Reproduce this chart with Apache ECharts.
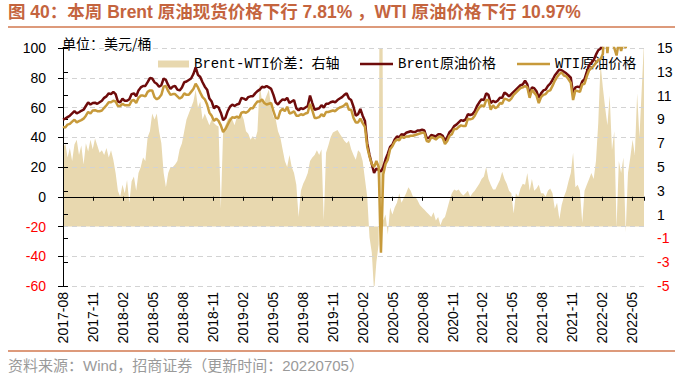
<!DOCTYPE html>
<html><head><meta charset="utf-8">
<script src="https://cdn.jsdelivr.net/npm/echarts@6/dist/echarts.min.js"></script>
<style>html,body{margin:0;padding:0;background:#fff}#c{width:683px;height:379px}</style>
</head><body><div id="c"></div>
<script>
const titleText = '图 40：本周 Brent 原油现货价格下行 7.81% ，WTI 原油价格下行 10.97%';
const unitText = '单位：美元/桶';
const sourceText = '资料来源：Wind，招商证券（更新时间：20220705）';
const seriesNames = ['Brent-WTI价差：右轴', 'Brent原油价格', 'WTI原油价格'];
const tickLabels = ['2017-08','2017-11','2018-02','2018-05','2018-08','2018-11','2019-02','2019-05','2019-08','2019-11','2020-02','2020-05','2020-08','2020-11','2021-02','2021-05','2021-08','2021-11','2022-02','2022-05'];
const rightTicks = [-5,-3,-1,1,3,5,7,9,11,13,15];
const firstWeek = '2017-08-21';

// weekly Brent spot (USD/bbl)
const brent = [
51.8,52.5,53.5,54.5,56.0,57.5,56.0,56.8,57.8,58.5,61.0,63.5,62.0,63.0,63.2,62.5,63.5,64.5,66.5,
67.5,69.5,69.0,70.5,69.0, 64.0,63.5,66.0,64.5, 64.5,65.5,69.0,69.5, 67.5,71.5,73.5,74.5,74.5,
77.0,79.8,79.5,77.0, 76.0,74.0,75.0,79.5, 78.5,75.0,72.5,74.0,74.5, 72.0,71.5,73.5,77.0,
77.5,78.5,79.5,82.5, 87.0,82.0,80.5,77.0,74.0, 72.0,66.0,64.0,59.5, 61.0,60.0,56.5,51.5,53.0,
57.5,60.5,62.0,61.0, 62.0,62.5,66.5,66.0, 65.0,67.0,67.5,67.5, 69.5,71.0,72.0,74.0,
73.5,74.5,73.5,72.5,68.5, 63.5,62.0,64.0,65.5, 65.0,66.5,63.0,64.0,65.0, 59.5,58.0,59.5,59.0,
60.0,61.0,68.0,63.0, 58.5,59.0,59.5,61.5,60.0, 62.5,62.5,63.5,64.0, 63.5,65.0,66.0,67.0,68.5,
69.5,66.0,65.0,60.5, 54.5,55.5,59.0,54.5, 51.0,36.0,28.0,22.0, 16.0,19.0,18.0,17.0,20.0,
25.0,29.0,33.5,35.0, 38.5,40.5,40.0,42.0,41.5, 43.0,43.5,44.0,43.5, 43.5,44.5,44.5,45.0,44.5,
39.5,39.5,41.5,41.0, 40.5,42.0,42.0,41.0,37.5, 40.0,43.5,45.0,47.5, 48.5,50.0,51.5,51.0,
52.0,55.5,55.0,55.5, 57.5,61.0,63.5,65.5, 65.0,69.5,68.5,63.0,64.5, 63.5,64.5,66.5,66.5,
70.0,69.0,67.5,69.0, 70.5,72.0,73.5,75.0,75.5, 78.0,75.5,68.5,73.5, 73.0,71.0,66.5,69.5,
71.5,72.0,74.5,76.0,78.5, 81.5,83.5,85.5,85.0, 84.0,83.0,81.5,80.0,69.0, 73.5,74.0,73.5,77.5,
79.0,84.0,88.5,90.0,92.0, 95.5,98.5,99.5,104.0, 130.0,105.0,120.0,113.0, 108.0,103.0,111.0,106.0,
108.0,106.0,113.0,116.0, 124.0,123.0,125.0,113.0,117.0,113.0
];

// weekly WTI spot (USD/bbl)
const wti = [
47.0,46.5,48.5,49.0,50.5,51.8,50.0,50.8,51.5,52.5,54.5,57.0,56.0,58.0,58.2,57.5,57.5,58.0,59.8,
61.5,63.5,63.5,64.5,64.0, 61.0,61.0,62.5,61.5, 61.5,61.5,64.5,65.0, 63.0,66.5,68.0,68.0,67.5,
70.5,71.5,71.5,67.0, 65.5,66.5,68.5,74.0, 74.5,71.0,68.5,69.0,69.0, 67.5,66.0,67.0,69.5,
68.5,68.5,70.5,72.5, 76.0,73.5,70.0,67.0,65.5, 62.0,56.5,54.5,51.0, 52.5,51.0,48.0,43.5,45.5,
48.5,51.5,53.5,53.0, 54.0,53.0,56.5,57.0, 56.5,57.5,59.5,59.5, 62.0,64.0,64.0,65.5,
63.0,62.0,62.5,63.0,57.5, 53.0,52.5,57.5,59.0, 57.5,60.5,56.0,56.5,57.5, 54.5,54.5,55.5,55.0,
56.0,56.5,62.5,58.0, 53.0,53.0,53.5,55.5,54.0, 57.0,57.0,57.5,58.0, 57.5,59.0,60.0,60.5,61.5,
63.0,58.5,58.5,53.0, 50.0,50.0,52.5,49.5, 47.0,33.5,27.0,22.0, 20.0,24.0,20.0,-37.6,15.0,
22.0,25.0,32.0,34.0, 37.0,38.5,38.0,40.5,39.5, 40.5,40.5,41.0,41.0, 41.5,42.0,42.5,43.0,43.0,
37.5,37.0,40.0,39.5, 38.5,40.0,40.5,39.5,35.5, 37.5,41.0,42.0,45.5, 45.5,47.0,48.0,47.5,
47.5,52.5,52.0,52.5, 54.5,57.5,60.0,61.5, 60.5,65.0,65.0,58.5,61.5, 59.5,60.5,63.0,62.5,
66.0,65.5,64.5,66.0, 68.5,70.0,71.5,73.0,73.5, 74.5,73.5,66.5,72.0, 70.0,68.0,63.0,67.0,
68.5,69.0,71.0,71.5,74.5, 78.0,80.5,82.5,83.5, 81.5,81.0,79.0,76.5,65.0, 71.5,71.0,70.5,75.5,
76.0,81.0,85.0,86.5,88.0, 90.0,92.0,92.5,96.0, 120.0,96.5,112.0,105.0, 100.0,95.0,104.0,98.0,
104.0,100.0,112.0,110.0, 118.0,119.0,118.0,108.0,110.0,110.0
];

// weekly Brent-WTI spread (right axis)
const spread = [
6.5,7.0,5.8,6.6,5.5,6.9,7.3,6.0,6.8,5.2,7.0,6.3,7.3,6.5,7.4,6.8,6.2,6.4,6.0,
6.6,5.8,6.4,5.6,4.5, 3.0,2.5,3.5,2.8, 3.9,2.0,3.8,4.2, 3.0,4.5,5.0,5.8,5.5,
7.5,8.0,9.5,9.0, 9.5,8.0,7.0,4.5, 3.3,4.5,5.0,5.0,5.2, 5.5,6.5,7.0,8.0,
9.0,9.5,10.0,10.5, 11.5,10.0,10.5,9.0,9.5, 9.0,8.5,9.0,8.7, 8.5,8.4,1.5,8.0,8.5,
9.0,9.2,9.0,8.5, 9.2,9.0,9.5,9.0, 8.0,7.8,7.3,7.6, 7.3,8.0,12.0,10.5,
10.5,11.0,11.5,10.0,9.2, 9.0,8.0,7.5,6.5, 5.5,5.0,6.0,5.0,4.5, 3.5,0.8,3.0,3.6,
4.0,4.5,5.5,5.8, 6.0,6.4,6.0,6.5,0.5, 6.2,6.8,7.5,7.9, 8.0,8.1,7.8,7.5,7.2,
7.0,7.2,6.5,6.0, 5.6,6.4,6.2,5.5, 4.0,2.5,-0.9,-2.2, -5.5,-3.0,-1.5,54.6,0.5,
1.0,-0.7,1.6,1.0, 1.6,2.0,2.8,2.0,2.4, 2.8,3.3,3.0,2.5, 2.5,2.2,1.8,1.6,1.4,
1.2,1.0,0.8,1.2, 0.5,0.8,0.1,0.6,0.8, 1.5,2.2,2.8,3.1, 3.0,3.1,2.8,2.6,
2.8,3.0,2.5,2.8, 3.0,3.3,3.6,4.0, 4.2,5.0,4.0,3.5,3.1, 3.1,3.5,3.9,4.6,
4.0,3.6,3.0,2.8, 1.1,2.8,2.5,3.2,3.6, 3.5,4.5,3.0,4.0, 3.0,3.2,3.5,2.8,
2.8,2.5,3.0,3.2,2.8, 1.5,2.0,0.6,1.8, 2.5,3.0,3.8,4.5,6.2, 3.3,3.5,3.0,0.3,
3.0,3.5,4.0,4.5,4.0, 5.5,8.7,13.7,11.7, 10.0,8.5,11.0,6.4, 8.0,-0.1,5.5,4.5,
5.8,-0.5,4.5,5.8, 7.3,6.0,11.2,7.5,11.5,15.5
];

// weekly category dates (Mondays) starting from firstWeek
const weeks = [];
(function () {
  let t = Date.parse(firstWeek + 'T00:00:00Z');
  for (let i = 0; i < brent.length; i++) {
    weeks.push(new Date(t).toISOString().slice(0, 10));
    t += 7 * 86400000;
  }
})();

const labelSpan = 19.39; // label slots across plot width
const latin = '"Liberation Sans", Arial, "Noto Sans CJK SC", sans-serif';
const mono = '"Liberation Mono", "Noto Sans CJK SC", monospace';
const negRed = v => (v < 0 ? '#FF0000' : '#000000');
const isInt = v => Math.abs(v - Math.round(v)) < 1e-6;
const legendText = { fontFamily: mono, fontSize: 14, color: '#000' };

const chart = echarts.init(document.getElementById('c'), null, { renderer: 'svg' });
chart.setOption({
  animation: false,
  backgroundColor: '#ffffff',
  grid: { left: 63, right: 39, top: 48, bottom: 93 },
  legend: [
    { data: [seriesNames[0]], left: 153, top: 52, icon: 'rect', itemWidth: 31, itemHeight: 7, selectedMode: false, textStyle: legendText },
    { data: [seriesNames[1]], left: 355, top: 52, icon: 'rect', itemWidth: 33, itemHeight: 2.5, selectedMode: false, textStyle: legendText },
    { data: [seriesNames[2]], left: 512, top: 52, icon: 'rect', itemWidth: 33, itemHeight: 2.5, selectedMode: false, textStyle: legendText }
  ],
  xAxis: [
    { type: 'category', data: weeks, boundaryGap: false, show: false },
    { type: 'value', min: 0, max: labelSpan, interval: 1, position: 'bottom',
      axisLine: { show: false, onZero: false }, axisTick: { show: false }, splitLine: { show: false },
      axisLabel: { rotate: 90, margin: 6, fontSize: 14, fontFamily: latin, color: '#000',
        formatter: v => (isInt(v) && tickLabels[Math.round(v)]) ? tickLabels[Math.round(v)] : '' } },
    { type: 'value', min: 0, max: labelSpan, interval: 1, position: 'bottom', z: 3,
      axisLine: { show: true, onZero: true, onZeroAxisIndex: 0, lineStyle: { color: '#000', width: 1 } },
      axisTick: { show: true, length: 4, lineStyle: { color: '#000' } },
      axisLabel: { show: false }, splitLine: { show: false } }
  ],
  yAxis: [
    { type: 'value', min: -60, max: 100, interval: 20, position: 'left', z: 3,
      axisLine: { show: true, lineStyle: { color: '#000', width: 1 } },
      axisTick: { show: true, length: 5, lineStyle: { color: '#000' } },
      axisLabel: { margin: 17, fontSize: 14, fontFamily: latin, color: negRed },
      splitLine: { show: true, lineStyle: { color: '#D3D3D3', type: [5, 4], width: 1 } } },
    { type: 'value', min: -5, max: 15, position: 'right', z: 3,
      axisLine: { show: true, lineStyle: { color: '#000', width: 1 } },
      axisTick: { show: true, length: 5, customValues: rightTicks, lineStyle: { color: '#000' } },
      axisLabel: { margin: 13, fontSize: 14, fontFamily: latin, customValues: rightTicks, color: negRed },
      splitLine: { show: false } }
  ],
  graphic: [
    { type: 'text', left: 8, top: 3, style: { text: titleText, font: 'bold 17.5px "Liberation Sans", Arial, "Noto Sans CJK SC"', fill: '#C4643E' } },
    { type: 'line', shape: { x1: 8, y1: 27, x2: 675, y2: 27 }, style: { stroke: '#D2794F', lineWidth: 1.5 } },
    { type: 'text', left: 62, top: 36, style: { text: unitText, font: '14px "Noto Sans CJK SC"', fill: '#000' } },
    { type: 'line', shape: { x1: 8, y1: 351, x2: 675, y2: 351 }, style: { stroke: '#D2794F', lineWidth: 1.5 } },
    { type: 'text', left: 8, top: 358, style: { text: sourceText, font: '15px "Liberation Sans", Arial, "Noto Sans CJK SC"', fill: '#9A9A9A' } }
  ],
  series: [
    { name: seriesNames[0], type: 'line', xAxisIndex: 0, yAxisIndex: 1, data: spread, symbol: 'none', z: 1,
      lineStyle: { width: 0, color: '#E8D8AF' }, itemStyle: { color: '#E8D8AF' },
      areaStyle: { color: '#E8D8AF', opacity: 1 } },
    { name: seriesNames[1], type: 'line', xAxisIndex: 0, yAxisIndex: 0, data: brent, symbol: 'none', z: 4,
      lineStyle: { width: 2.5, color: '#6E0B0B' }, itemStyle: { color: '#6E0B0B' } },
    { name: seriesNames[2], type: 'line', xAxisIndex: 0, yAxisIndex: 0, data: wti, symbol: 'none', z: 5,
      lineStyle: { width: 2.5, color: '#C79A3B' }, itemStyle: { color: '#C79A3B' } }
  ]
});
</script></body></html>
